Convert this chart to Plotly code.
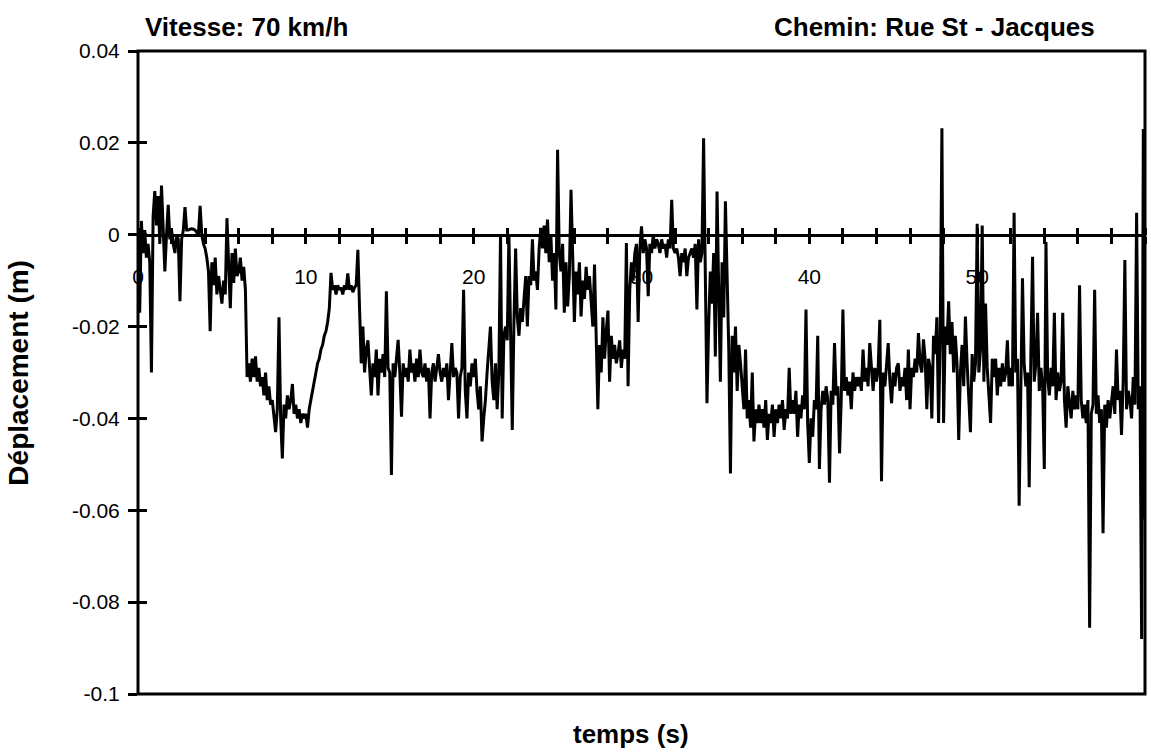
import plotly.graph_objects as go

# ---------------- data ----------------
PAS_S = 0.1  # sampling step of the record (s)

seg_00_10 = [
    -0.002, -0.017, 0.003, -0.004, 0.001, -0.005, -0.002, -0.006, -0.030, 0.004,
    0.0095, 0.002, 0.0084, -0.002, 0.0107, 0.001, -0.008, 0.000, 0.0065, -0.001,
    0.001, -0.002, -0.004, 0.000, -0.001, -0.0145, -0.001, 0.001, 0.006, 0.001,
    0.001, 0.0012, 0.0013, 0.0012, 0.001, 0.0005, 0.0, 0.0063, 0.0, -0.002,
    -0.003, -0.005, -0.008, -0.021, -0.006, -0.011, -0.005, -0.013, -0.009, -0.012,
    -0.015, -0.010, -0.013, 0.0036, -0.006, -0.016, -0.004, -0.0105, -0.003, -0.009,
    -0.008, -0.005, -0.010, -0.007, -0.012, -0.031, -0.028, -0.032, -0.027, -0.031,
    -0.0265, -0.032, -0.029, -0.033, -0.031, -0.035, -0.030, -0.036, -0.033, -0.037,
    -0.036, -0.039, -0.043, -0.038, -0.018, -0.040, -0.0487, -0.037, -0.040, -0.035,
    -0.038, -0.036, -0.0325, -0.039, -0.037, -0.040, -0.038, -0.041, -0.039, -0.040,
]
seg_10_20 = [
    -0.039, -0.042, -0.038, -0.036, -0.034, -0.032, -0.030, -0.028, -0.027, -0.025,
    -0.024, -0.022, -0.021, -0.019, -0.016, -0.0083, -0.012, -0.011, -0.013, -0.011,
    -0.012, -0.0115, -0.013, -0.011, -0.012, -0.0084, -0.012, -0.011, -0.0125, -0.0115,
    -0.011, -0.0033, -0.016, -0.028, -0.020, -0.030, -0.025, -0.023, -0.029, -0.035,
    -0.028, -0.031, -0.025, -0.035, -0.027, -0.030, -0.026, -0.031, -0.0123, -0.029,
    -0.030, -0.0523, -0.028, -0.031, -0.027, -0.0229, -0.030, -0.0396, -0.028, -0.031,
    -0.029, -0.032, -0.025, -0.030, -0.028, -0.032, -0.027, -0.031, -0.025, -0.030,
    -0.031, -0.028, -0.032, -0.029, -0.040, -0.030, -0.028, -0.032, -0.029, -0.026,
    -0.030, -0.032, -0.029, -0.031, -0.028, -0.036, -0.030, -0.0236, -0.031, -0.029,
    -0.030, -0.040, -0.031, -0.029, -0.012, -0.034, -0.040, -0.030, -0.033, -0.028,
]
seg_20_30 = [
    -0.031, -0.027, -0.034, -0.038, -0.033, -0.045, -0.040, -0.036, -0.030, -0.025,
    -0.020, -0.032, -0.036, -0.028, -0.038, -0.030, 0.0, -0.040, -0.022, -0.020,
    -0.023, 0.0, -0.021, -0.0425, -0.019, -0.003, -0.018, -0.022, -0.016, -0.019,
    -0.014, -0.009, -0.020, -0.009, -0.011, -0.001, -0.010, -0.008, -0.012, -0.003,
    0.0015, -0.003, 0.002, -0.004, 0.0033, -0.006, 0.0, -0.010, -0.004, -0.0163,
    0.0185, -0.004, -0.008, -0.002, -0.017, -0.006, -0.0156, -0.009, 0.0098, -0.007,
    -0.019, -0.008, -0.013, -0.006, -0.0178, -0.010, -0.014, -0.007, -0.012, -0.009,
    -0.014, -0.020, -0.0065, -0.025, -0.038, -0.024, -0.030, -0.018, -0.027, -0.021,
    -0.0165, -0.032, -0.022, -0.027, -0.024, -0.028, -0.026, -0.023, -0.029, -0.025,
    -0.027, -0.0018, -0.033, -0.012, -0.006, -0.010, -0.004, -0.002, -0.019, -0.003,
]
seg_30_40 = [
    0.0018, -0.004, -0.001, -0.003, -0.0134, -0.002, -0.004, 0.0, -0.003, -0.001,
    -0.002, -0.004, -0.001, -0.003, -0.002, -0.005, -0.001, -0.003, 0.0076, -0.003,
    -0.004, -0.003, -0.005, -0.009, -0.004, -0.006, -0.003, -0.009, -0.005, -0.004,
    -0.003, -0.005, -0.002, -0.0163, -0.001, -0.006, -0.004, 0.021, -0.010, -0.0367,
    -0.020, -0.008, -0.015, -0.004, -0.0265, 0.0094, -0.012, -0.032, -0.006, -0.018,
    0.0073, -0.010, -0.025, -0.052, -0.022, -0.030, -0.020, -0.034, -0.024, -0.028,
    -0.034, -0.038, -0.025, -0.040, -0.036, -0.042, -0.030, -0.045, -0.038, -0.041,
    -0.037, -0.041, -0.038, -0.042, -0.036, -0.0447, -0.039, -0.041, -0.037, -0.044,
    -0.038, -0.041, -0.037, -0.040, -0.036, -0.0425, -0.038, -0.040, -0.029, -0.039,
    -0.036, -0.039, -0.034, -0.044, -0.037, -0.040, -0.035, -0.038, -0.0163, -0.041,
]
seg_40_50 = [
    -0.0497, -0.040, -0.044, -0.036, -0.038, -0.022, -0.051, -0.038, -0.034, -0.037,
    -0.033, -0.036, -0.054, -0.034, -0.037, -0.0236, -0.035, -0.033, -0.0476, -0.036,
    -0.0163, -0.034, -0.031, -0.035, -0.032, -0.038, -0.030, -0.034, -0.031, -0.033,
    -0.031, -0.034, -0.025, -0.032, -0.029, -0.033, -0.0236, -0.030, -0.034, -0.029,
    -0.032, -0.029, -0.0185, -0.0537, -0.030, -0.033, -0.028, -0.0236, -0.032, -0.0367,
    -0.030, -0.033, -0.029, -0.028, -0.034, -0.031, -0.033, -0.029, -0.036, -0.025,
    -0.038, -0.029, -0.031, -0.027, -0.030, -0.0214, -0.028, -0.030, -0.0228, -0.027,
    -0.038, -0.027, -0.029, -0.040, -0.022, -0.026, -0.018, -0.041, -0.022, 0.0232,
    -0.041, -0.020, -0.024, -0.0145, -0.026, -0.019, -0.030, -0.022, -0.028, -0.0447,
    -0.030, -0.024, -0.033, -0.0178, -0.028, -0.035, -0.043, -0.026, -0.032, -0.028,
]
seg_50_60 = [
    0.0024, -0.030, -0.025, 0.002, -0.032, -0.015, -0.029, -0.035, -0.041, -0.027,
    -0.031, -0.027, -0.035, -0.029, -0.033, -0.028, -0.032, -0.030, -0.023, -0.033,
    -0.029, -0.033, 0.0048, -0.030, -0.027, -0.059, -0.031, -0.0095, -0.028, -0.033,
    -0.030, -0.055, -0.026, -0.0048, -0.032, -0.028, -0.017, -0.034, -0.029, -0.033,
    -0.051, -0.0016, -0.031, -0.035, -0.029, -0.033, -0.017, -0.036, -0.030, -0.034,
    -0.032, -0.017, -0.036, -0.042, -0.033, -0.037, -0.040, -0.034, -0.038, -0.035,
    -0.038, -0.011, -0.036, -0.040, -0.037, -0.041, -0.036, -0.0856, -0.039, -0.037,
    -0.012, -0.039, -0.035, -0.041, -0.038, -0.065, -0.037, -0.042, -0.036, -0.040,
    -0.037, -0.033, -0.039, -0.025, -0.036, -0.034, -0.0436, -0.032, -0.0055, -0.038,
    -0.034, -0.036, -0.040, -0.031, -0.037, 0.0048, -0.038, -0.033, -0.088, 0.023,
    -0.062,
]

deplacement = seg_00_10 + seg_10_20 + seg_20_30 + seg_30_40 + seg_40_50 + seg_50_60
temps = [round(i * PAS_S, 1) for i in range(len(deplacement))]

x_range = [0, 60]
y_range = [-0.1, 0.04]
y_tickvals = [0.04, 0.02, 0, -0.02, -0.04, -0.06, -0.08, -0.1]
y_ticktext = ["0.04", "0.02", "0", "-0.02", "-0.04", "-0.06", "-0.08", "-0.1"]

titre_gauche = "Vitesse: 70 km/h"
titre_droite = "Chemin: Rue St - Jacques"
titre_x = "temps (s)"
titre_y = "Déplacement (m)"

# ---------------- figure ----------------
W, H = 1151, 752
ML, MR, MT, MB = 138, 6, 51, 58
FONT = "Liberation Sans"

pos_zero = (0 - y_range[0]) / (y_range[1] - y_range[0])

fig = go.Figure()
fig.add_trace(go.Scatter(
    x=temps, y=deplacement, mode="lines",
    line=dict(color="black", width=3),
    xaxis="x", yaxis="y", showlegend=False, hoverinfo="skip",
))
# invisible copy so the overlaid tick axes exist
fig.add_trace(go.Scatter(
    x=temps, y=deplacement, mode="lines",
    line=dict(color="rgba(0,0,0,0)", width=0),
    xaxis="x2", yaxis="y2", showlegend=False, hoverinfo="skip",
))

tick_common = dict(tickcolor="black", tickwidth=2.5)
minor_ticks = dict(dtick=2, ticks="outside", ticklen=7, tickwidth=2.5, tickcolor="black")

fig.update_layout(
    width=W, height=H,
    margin=dict(l=ML, r=MR, t=MT, b=MB, pad=0),
    paper_bgcolor="white", plot_bgcolor="white",
    font=dict(family=FONT, color="black"),
    xaxis=dict(
        range=x_range, anchor="free", position=pos_zero, side="bottom",
        showline=True, linecolor="black", linewidth=3,
        ticks="outside", ticklen=7, tick0=0, dtick=10, **tick_common,
        minor=minor_ticks,
        showgrid=False, zeroline=False,
        tickfont=dict(family=FONT, size=21, color="black"),
        ticklabelstandoff=15, layer="below traces",
    ),
    xaxis2=dict(
        range=x_range, overlaying="x", anchor="free", position=pos_zero, side="top",
        showline=False, ticks="outside", ticklen=7, tick0=0, dtick=10, **tick_common,
        minor=minor_ticks, showticklabels=False,
        showgrid=False, zeroline=False, layer="below traces",
    ),
    yaxis=dict(
        range=y_range, anchor="x", side="left",
        tickmode="array", tickvals=y_tickvals, ticktext=y_ticktext,
        ticks="outside", ticklen=9, **tick_common,
        showline=False, showgrid=False, zeroline=False,
        tickfont=dict(family=FONT, size=21, color="black"),
        ticklabelstandoff=4,
    ),
    yaxis2=dict(
        range=y_range, overlaying="y", anchor="x", side="left",
        tickmode="array", tickvals=y_tickvals,
        ticks="inside", ticklen=9, **tick_common,
        showticklabels=False, showline=False, showgrid=False, zeroline=False,
    ),
    shapes=[dict(
        type="rect", xref="paper", yref="paper", x0=0, x1=1, y0=0, y1=1,
        line=dict(color="black", width=3), fillcolor="rgba(0,0,0,0)", layer="above",
    )],
    annotations=[
        dict(text=f"<b>{titre_gauche}</b>", xref="paper", yref="paper",
             x=0.005, y=1.037, xanchor="left", yanchor="middle", showarrow=False,
             font=dict(family=FONT, size=26, color="black")),
        dict(text=f"<b>{titre_droite}</b>", xref="paper", yref="paper",
             x=0.63, y=1.037, xanchor="left", yanchor="middle", showarrow=False,
             font=dict(family=FONT, size=26, color="black")),
        dict(text=f"<b>{titre_x}</b>", xref="paper", yref="paper",
             x=0.49, y=-0.062, xanchor="center", yanchor="middle", showarrow=False,
             font=dict(family=FONT, size=26, color="black")),
        dict(text=f"<b>{titre_y}</b>", xref="paper", yref="paper",
             x=-0.119, y=0.5, xanchor="center", yanchor="middle", showarrow=False,
             textangle=-90, font=dict(family=FONT, size=28, color="black")),
    ],
)

fig.write_html("out.html")
